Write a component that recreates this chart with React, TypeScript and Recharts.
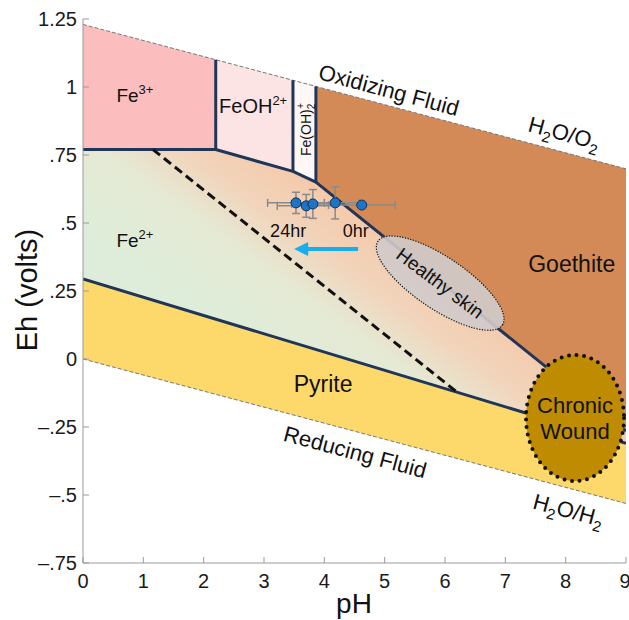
import React from 'react';
import {
  ComposedChart, XAxis, YAxis, Area, Line, Scatter, ErrorBar,
  ReferenceDot, ReferenceLine,
} from 'recharts';

const FONT = '"Liberation Sans", Arial, Helvetica, sans-serif';
const EDGE = '#1f3658';
const AXIS = '#9a9a9a';

// axis ticks
const phTicks = [0, 1, 2, 3, 4, 5, 6, 7, 8, 9];
const ehTicks = [-0.75, -0.5, -0.25, 0, 0.25, 0.5, 0.75, 1, 1.25];

// water stability limits (pH, Eh volts)
const waterO2 = [{ x: 0, y: 1.23 }, { x: 9, y: 0.699 }];
const waterH2 = [{ x: 0, y: 0 }, { x: 9, y: -0.531 }];

// stability fields, [lower Eh, upper Eh] at each pH
const fe3Field = [{ x: 0, r: [0.77, 1.23] }, { x: 2.2, r: [0.77, 1.1] }];
const feOHField = [{ x: 2.2, r: [0.77, 1.1] }, { x: 3.48, r: [0.69, 1.025] }];
const feOH2Field = [{ x: 3.48, r: [0.69, 1.025] }, { x: 3.86, r: [0.65, 1.002] }];
const goethiteField = [{ x: 3.86, r: [0.65, 1.002] }, { x: 9, r: [-0.265, 0.699] }];
const fe2Field = [
  { x: 0, r: [0.294, 0.77] },
  { x: 2.2, r: [0.146, 0.77] },
  { x: 3.48, r: [0.06, 0.69] },
  { x: 3.86, r: [0.035, 0.65] },
  { x: 9, r: [-0.31, -0.265] },
];
const pyriteField = [{ x: 0, r: [0, 0.294] }, { x: 9, r: [-0.531, -0.31] }];

// boundary lines
const fe2Upper = [
  { x: 0, y: 0.77 }, { x: 2.2, y: 0.77 }, { x: 3.48, y: 0.69 },
  { x: 3.86, y: 0.65 }, { x: 9, y: -0.265 },
];
const pyriteUpper = [{ x: 0, y: 0.294 }, { x: 9, y: -0.31 }];
const dividerA = [{ x: 2.2, y: 0.77 }, { x: 2.2, y: 1.1 }];
const dividerB = [{ x: 3.48, y: 0.69 }, { x: 3.48, y: 1.025 }];
const dividerC = [{ x: 3.86, y: 0.65 }, { x: 3.86, y: 1.002 }];
const dashedBoundary = [{ x: 1.16, y: 0.77 }, { x: 6.2, y: -0.122 }];

// measured wound fluid, 0hr -> 24hr
const samples = [
  { x: 3.53, y: 0.574, ex: 0.47, ey: 0.039 },
  { x: 3.7, y: 0.563, ex: 0.48, ey: 0.042 },
  { x: 3.81, y: 0.57, ex: 0.35, ey: 0.053 },
  { x: 4.18, y: 0.574, ex: 0.4, ey: 0.059 },
  { x: 4.62, y: 0.566, ex: 0.55, ey: 0 },
];

const fmtEh = (v: number) => {
  if (v === 0) return '0';
  const s = Math.abs(v).toString().replace(/^0/, '');
  return (v < 0 ? '\u2013' : '') + s;
};

const XTick = (p: any) => (
  <text x={p.x} y={p.y} dy="0.71em" textAnchor="middle" fontSize={20} fontFamily={FONT} fill="#1a1a1a">
    {p.payload.value}
  </text>
);

const YTick = (p: any) => (
  <text x={p.x} y={p.y} dy="0.36em" textAnchor="end" fontSize={20} fontFamily={FONT} fill="#1a1a1a">
    {fmtEh(p.payload.value)}
  </text>
);

const SampleDot = (p: any) => (
  <circle cx={p.cx} cy={p.cy} r={5} fill="#1f74c6" stroke="#0d3560" strokeWidth={1} />
);

// text placed at a data point
const textShape = (body: React.ReactNode, opts: { size?: number; angle?: number; dy?: string } = {}) =>
  (p: any) => (
    <g transform={`translate(${p.cx},${p.cy}) rotate(${opts.angle || 0})`}>
      <text textAnchor="middle" dy={opts.dy || 0} fontSize={opts.size || 18} fontFamily={FONT} fill="#111">
        {body}
      </text>
    </g>
  );

const sup = (base: string, s: string, size = 13) => (
  <>
    <tspan>{base}</tspan>
    <tspan dy={-8} fontSize={size}>{s}</tspan>
  </>
);

const sub2 = (a: string, b: string) => (
  <>
    <tspan>{a}</tspan><tspan dy={6} fontSize={15}>2</tspan>
    <tspan dy={-6}>{b}</tspan><tspan dy={6} fontSize={15}>2</tspan>
  </>
);

const HealthySkin = (p: any) => (
  <g transform={`translate(${p.cx},${p.cy})`}>
    <ellipse rx={75} ry={26} transform="rotate(34)" fill="#d0cbcb" fillOpacity={0.9}
      stroke="#222" strokeWidth={1.4} strokeDasharray="0.1 2.6" strokeLinecap="round" />
    <text transform="rotate(37)" textAnchor="middle" dy="0.35em" fontSize={19} fontFamily={FONT} fill="#111">
      Healthy skin
    </text>
  </g>
);

const ChronicWound = (p: any) => (
  <g transform={`translate(${p.cx},${p.cy})`}>
    <ellipse rx={49} ry={63} fill="#bf8b00" stroke="#111" strokeWidth={4}
      strokeDasharray="0 7.6" strokeLinecap="round" />
    <text textAnchor="middle" fontSize={22} fontFamily={FONT} fill="#111">
      <tspan x={0} y={-5}>Chronic</tspan>
      <tspan x={0} y={21}>Wound</tspan>
    </text>
  </g>
);

const Arrow = (p: any) => {
  const { x1, y1, x2, y2 } = p;
  return (
    <g>
      <line x1={x1} y1={y1} x2={x2 + 12} y2={y2} stroke="#17adef" strokeWidth={4} />
      <polygon points={`${x2},${y2} ${x2 + 14},${y2 - 7} ${x2 + 14},${y2 + 7}`} fill="#17adef" />
    </g>
  );
};

const edge = (data: any[], key: string) => (
  <Line key={key} data={data} dataKey="y" stroke={EDGE} strokeWidth={3} dot={false} activeDot={false}
    strokeLinejoin="round" isAnimationActive={false} legendType="none" />
);

const field = (data: any[], fill: string, key: string) => (
  <Area key={key} data={data} dataKey="r" type="linear" fill={fill} fillOpacity={1} stroke="none"
    dot={false} activeDot={false} isAnimationActive={false} legendType="none" />
);

export default function App() {
  return (
    <div style={{ position: 'absolute', left: 0, top: 0, width: 629, height: 620, background: '#fff' }}>
      <svg width={0} height={0} style={{ position: 'absolute' }}>
        <defs>
          <linearGradient id="fe2grad" gradientUnits="userSpaceOnUse" x1={250} y1={345} x2={355} y2={200}>
            <stop offset="0" stopColor="#deedd9" />
            <stop offset="0.4" stopColor="#e5e9d4" />
            <stop offset="0.65" stopColor="#f1d5bc" />
            <stop offset="1" stopColor="#f5c7a7" />
          </linearGradient>
        </defs>
      </svg>
      <ComposedChart width={629} height={620} margin={{ top: 19, right: 3, bottom: 0, left: 0 }}>
        <XAxis dataKey="x" type="number" domain={[0, 9]} ticks={phTicks} allowDataOverflow
          height={57} tickSize={-6} tickMargin={17} axisLine={{ stroke: AXIS }} tickLine={{ stroke: AXIS }}
          tick={XTick} />
        <XAxis xAxisId="top" orientation="top" dataKey="x" type="number" domain={[0, 9]} ticks={phTicks}
          allowDataOverflow height={0} tickSize={-6} tick={false}
          axisLine={{ stroke: AXIS }} tickLine={{ stroke: AXIS }} />
        <YAxis dataKey="y" type="number" domain={[-0.75, 1.25]} ticks={ehTicks} allowDataOverflow
          width={83} tickSize={-6} tickMargin={12} axisLine={{ stroke: AXIS }} tickLine={{ stroke: AXIS }}
          tick={YTick} />
        <YAxis yAxisId="right" orientation="right" type="number" domain={[-0.75, 1.25]} ticks={ehTicks}
          allowDataOverflow width={0} tickSize={-6} tick={false}
          axisLine={{ stroke: AXIS }} tickLine={{ stroke: AXIS }} />

        {field(fe3Field, '#fbbdbd', 'fe3')}
        {field(feOHField, '#fde4e4', 'feoh')}
        {field(feOH2Field, '#fff6f6', 'feoh2')}
        {field(goethiteField, '#d38a56', 'goethite')}
        {field(pyriteField, '#fdd86b', 'pyrite')}
        {field(fe2Field, 'url(#fe2grad)', 'fe2')}

        <Line data={waterO2} dataKey="y" stroke="#777" strokeWidth={1} strokeDasharray="4 2" dot={false}
          activeDot={false} isAnimationActive={false} />
        <Line data={waterH2} dataKey="y" stroke="#777" strokeWidth={1} strokeDasharray="4 2" dot={false}
          activeDot={false} isAnimationActive={false} />

        {edge(fe2Upper, 'upper')}
        {edge(pyriteUpper, 'pyrite')}
        {edge(dividerA, 'da')}
        {edge(dividerB, 'db')}
        {edge(dividerC, 'dc')}
        <Line data={dashedBoundary} dataKey="y" stroke="#111" strokeWidth={3} strokeDasharray="9 5"
          dot={false} activeDot={false} isAnimationActive={false} />

        <Scatter data={samples} dataKey="y" shape={SampleDot} isAnimationActive={false}>
          <ErrorBar dataKey="ex" direction="x" width={4} stroke="#8a8a8a" strokeWidth={1.5} isAnimationActive={false} />
          <ErrorBar dataKey="ey" direction="y" width={4} stroke="#8a8a8a" strokeWidth={1.5} isAnimationActive={false} />
        </Scatter>

        <ReferenceLine segment={[{ x: 4.56, y: 0.404 }, { x: 3.5, y: 0.404 }]} shape={Arrow} />
        <ReferenceDot x={5.92} y={0.279} r={0} shape={HealthySkin} />
        <ReferenceDot x={8.155} y={-0.217} r={0} shape={ChronicWound} />

        <ReferenceDot x={0.86} y={0.945} r={0} shape={textShape(sup('Fe', '3+'), { size: 19 })} />
        <ReferenceDot x={2.82} y={0.904} r={0} shape={textShape(sup('FeOH', '2+'), { size: 20 })} />
        <ReferenceDot x={0.86} y={0.412} r={0} shape={textShape(sup('Fe', '2+'), { size: 19 })} />
        <ReferenceDot x={3.7} y={0.844} r={0} shape={textShape(
          <>
            <tspan>Fe(OH)</tspan>
            <tspan dy={4} fontSize={10}>2</tspan>
            <tspan dy={-11} dx={-5} fontSize={10}>+</tspan>
          </>, { size: 14, angle: -90, dy: '0.35em' })} />
        <ReferenceDot x={8.1} y={0.32} r={0} shape={textShape('Goethite', { size: 23 })} />
        <ReferenceDot x={3.98} y={-0.121} r={0} shape={textShape('Pyrite', { size: 23 })} />
        <ReferenceDot x={5.07} y={0.989} r={0} shape={textShape('Oxidizing Fluid', { size: 22, angle: 15, dy: '0.35em' })} />
        <ReferenceDot x={4.51} y={-0.342} r={0} shape={textShape('Reducing Fluid', { size: 22, angle: 15, dy: '0.35em' })} />
        <ReferenceDot x={7.97} y={0.827} r={0} shape={textShape(sub2('H', 'O/O'), { size: 22, angle: 15, dy: '0.3em' })} />
        <ReferenceDot x={8.04} y={-0.559} r={0} shape={textShape(sub2('H', 'O/H'), { size: 22, angle: 15, dy: '0.3em' })} />
        <ReferenceDot x={3.4} y={0.449} r={0} shape={textShape('24hr', { size: 18 })} />
        <ReferenceDot x={4.52} y={0.449} r={0} shape={textShape('0hr', { size: 18 })} />
      </ComposedChart>
      <svg width={629} height={620} style={{ position: 'absolute', left: 0, top: 0, pointerEvents: 'none' }}>
        <text transform="translate(37,290) rotate(-90)" textAnchor="middle" fontSize={29} fontFamily={FONT} fill="#111">
          Eh (volts)
        </text>
        <text x={354} y={613} textAnchor="middle" fontSize={28} fontFamily={FONT} fill="#111">pH</text>
      </svg>
    </div>
  );
}
